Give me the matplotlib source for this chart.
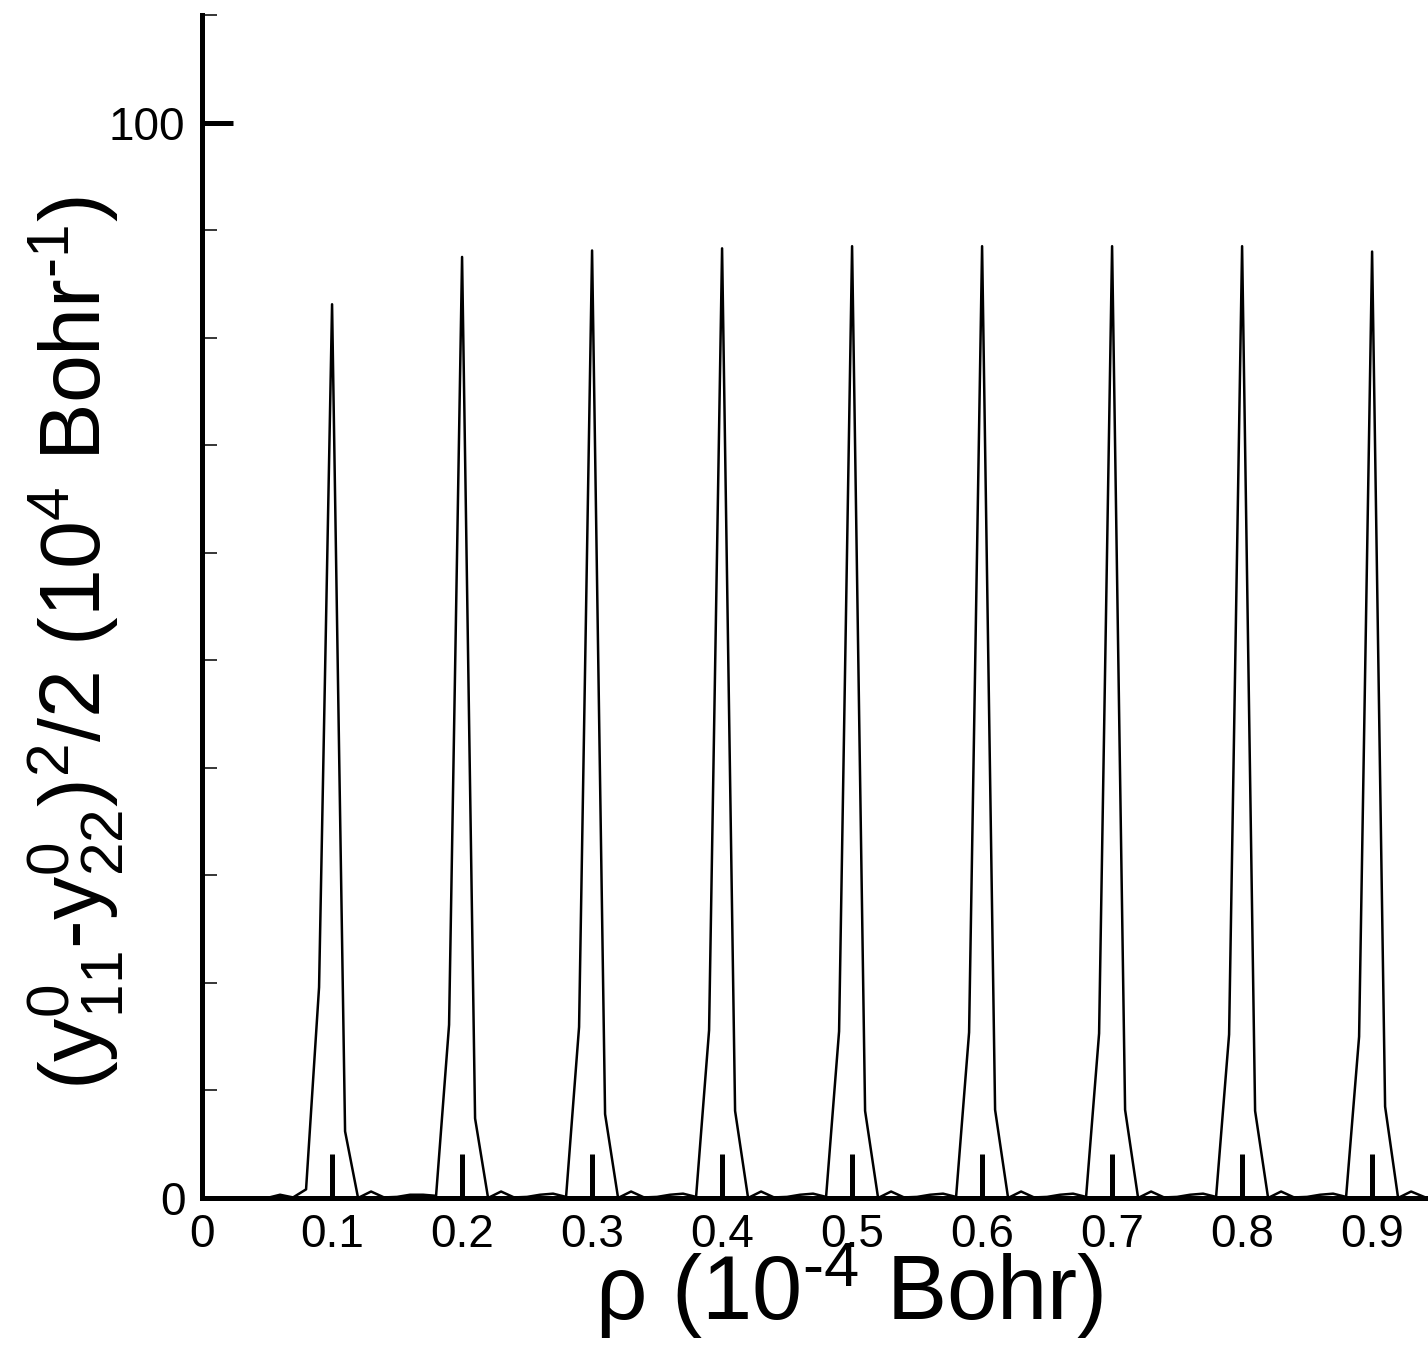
import numpy as np
import matplotlib.pyplot as plt
from matplotlib.ticker import MultipleLocator

plt.rcParams['font.family'] = ['Liberation Sans', 'DejaVu Sans']
plt.rcParams['mathtext.fontset'] = 'custom'
plt.rcParams['mathtext.rm'] = 'Liberation Sans'

# rho grid (10^-4 Bohr) and the curve values
rho = [0.00, 0.01, 0.02, 0.03, 0.04, 0.05, 0.06, 0.07, 0.08, 0.09,
       0.10, 0.11, 0.12, 0.13, 0.14, 0.15, 0.16, 0.17, 0.18, 0.19,
       0.20, 0.21, 0.22, 0.23, 0.24, 0.25, 0.26, 0.27, 0.28, 0.29,
       0.30, 0.31, 0.32, 0.33, 0.34, 0.35, 0.36, 0.37, 0.38, 0.39,
       0.40, 0.41, 0.42, 0.43, 0.44, 0.45, 0.46, 0.47, 0.48, 0.49,
       0.50, 0.51, 0.52, 0.53, 0.54, 0.55, 0.56, 0.57, 0.58, 0.59,
       0.60, 0.61, 0.62, 0.63, 0.64, 0.65, 0.66, 0.67, 0.68, 0.69,
       0.70, 0.71, 0.72, 0.73, 0.74, 0.75, 0.76, 0.77, 0.78, 0.79,
       0.80, 0.81, 0.82, 0.83, 0.84, 0.85, 0.86, 0.87, 0.88, 0.89,
       0.90, 0.91, 0.92, 0.93, 0.94]
val = [0.0, 0.0, 0.0, 0.0, 0.0, 0.0, 0.3, 0.05, 0.8, 19.6,
       83.1, 6.2, 0.0, 0.6, 0.05, 0.1, 0.3, 0.3, 0.2, 16.1,
       87.5, 7.4, 0.0, 0.6, 0.05, 0.1, 0.3, 0.4, 0.1, 15.9,
       88.1, 7.8, 0.0, 0.6, 0.05, 0.1, 0.3, 0.4, 0.1, 15.6,
       88.3, 8.1, 0.0, 0.6, 0.05, 0.1, 0.3, 0.4, 0.1, 15.5,
       88.5, 8.1, 0.0, 0.6, 0.05, 0.1, 0.3, 0.4, 0.1, 15.4,
       88.5, 8.2, 0.0, 0.6, 0.05, 0.1, 0.3, 0.4, 0.1, 15.3,
       88.5, 8.2, 0.0, 0.6, 0.05, 0.1, 0.3, 0.4, 0.1, 15.2,
       88.5, 8.1, 0.0, 0.6, 0.05, 0.1, 0.3, 0.4, 0.1, 15.0,
       88.0, 8.5, 0.0, 0.6, 0.1]

xticks = [0, 0.1, 0.2, 0.3, 0.4, 0.5, 0.6, 0.7, 0.8, 0.9]
xtick_labels = ['0', '0.1', '0.2', '0.3', '0.4', '0.5', '0.6', '0.7', '0.8', '0.9']
yticks = [0, 100]

fig = plt.figure(figsize=(14.28, 13.48), dpi=100)
ax = fig.add_axes([0.1415, 0.1113, 0.8585, 0.8776])

ax.plot(rho, val, color='black', linewidth=1.8)

ax.set_xlim(0, 0.943)
ax.set_ylim(0, 110)

# spines
for s in ['top', 'right']:
    ax.spines[s].set_visible(False)
for s in ['left', 'bottom']:
    ax.spines[s].set_linewidth(3.6)

# ticks
ax.set_xticks(xticks)
ax.set_xticklabels(xtick_labels)
ax.set_yticks(yticks)
ax.yaxis.set_minor_locator(MultipleLocator(10))
ax.tick_params(axis='x', which='major', direction='in', length=32, width=3.6,
               labelsize=33, pad=11)
ax.tick_params(axis='y', which='major', direction='in', length=22, width=3.6,
               labelsize=33, pad=12)
ax.tick_params(axis='y', which='minor', direction='in', length=11, width=1.1)

# axis labels (hyphen U+2010 instead of mathtext minus)
ax.set_xlabel('\u03c1 (10$\\mathregular{^{\u20104}}$ Bohr)', fontsize=65)
ax.xaxis.label.set_va('center')
ax.xaxis.set_label_coords(0.528, -0.078)
ax.set_ylabel(r'(y$\mathregular{^0_{11}}$-y$\mathregular{^0_{22}}$)$\mathregular{^2}$/2 '
              '(10$\\mathregular{^4}$ Bohr$\\mathregular{^{\u20101}}$)', fontsize=62)
ax.yaxis.label.set_va('center')
ax.yaxis.set_label_coords(-0.104, 0.469)

fig.savefig('out.png', dpi=100)
